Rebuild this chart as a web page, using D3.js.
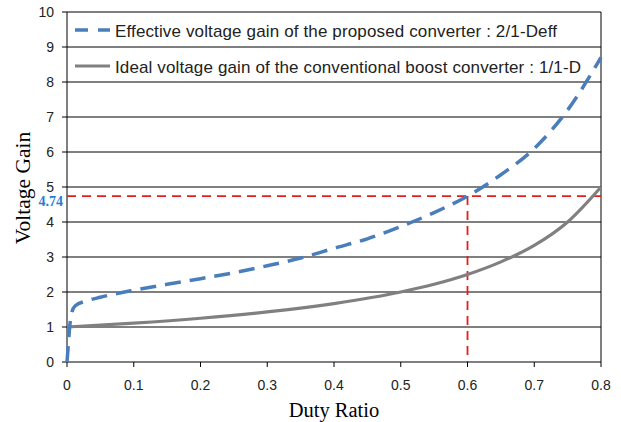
<!DOCTYPE html>
<html><head><meta charset="utf-8">
<script src="https://cdn.jsdelivr.net/npm/d3@7"></script>
<style>body{margin:0;background:#fff}svg{display:block}</style>
</head><body>
<svg id="c" width="621" height="422"></svg>
<script>
const yTicks = [0,1,2,3,4,5,6,7,8,9,10];
const xTicks = [0,0.1,0.2,0.3,0.4,0.5,0.6,0.7,0.8];
const effD = [0,0.002,0.004,0.007,0.012,0.03,0.05,0.1,0.15,0.2,0.25,0.3,0.35,0.4,0.45,0.5,0.55,0.6,0.65,0.7,0.75,0.8];
const effG = [0,0.5,1.0,1.4,1.6,1.75,1.85,2.05,2.22,2.38,2.55,2.75,2.97,3.25,3.52,3.87,4.27,4.74,5.35,6.1,7.2,8.7];
const idealD = [0,0.1,0.2,0.3,0.4,0.5,0.55,0.6,0.65,0.7,0.75,0.8];
const idealG = [1,1.11,1.25,1.43,1.67,2,2.22,2.5,2.86,3.33,4,5];
const markD = 0.6, markG = 4.74;
const legendLabels = ["Effective voltage gain of the proposed converter : 2/1-Deff","Ideal voltage gain of the conventional boost converter : 1/1-D"];

const svg = d3.select("#c");
const L=67,R=601,T=12,B=362;
const x = d3.scaleLinear().domain([0,0.8]).range([L,R]);
const y = d3.scaleLinear().domain([0,10]).range([B,T]);

// gridlines
svg.append("g").selectAll("line").data(yTicks).join("line")
 .attr("x1",L-5).attr("x2",R).attr("y1",d=>y(d)).attr("y2",d=>y(d))
 .attr("stroke","#000").attr("stroke-width",1);
// axes lines
svg.append("line").attr("x1",L).attr("x2",L).attr("y1",T).attr("y2",B).attr("stroke","#000");
svg.append("line").attr("x1",R).attr("x2",R).attr("y1",T).attr("y2",B).attr("stroke","#000");
svg.append("g").selectAll("line").data(xTicks).join("line")
 .attr("x1",d=>x(d)).attr("x2",d=>x(d)).attr("y1",B).attr("y2",B+5).attr("stroke","#000");

const tf = "'Liberation Sans', Arial, sans-serif";
svg.append("g").selectAll("text").data(yTicks).join("text")
 .attr("x",L-13).attr("y",d=>y(d)+5).attr("text-anchor","end")
 .attr("font-family",tf).attr("font-size",14).attr("fill","#222").text(d=>d);
svg.append("g").selectAll("text").data(xTicks).join("text")
 .attr("x",d=>x(d)).attr("y",390).attr("text-anchor","middle")
 .attr("font-family",tf).attr("font-size",14).attr("fill","#222").text(d=>d);

// red dashed markers
svg.append("line").attr("x1",L).attr("x2",R).attr("y1",y(markG)).attr("y2",y(markG))
 .attr("stroke","#e0201c").attr("stroke-width",1.8).attr("stroke-dasharray","9,6");
svg.append("line").attr("x1",x(markD)).attr("x2",x(markD)).attr("y1",y(markG)).attr("y2",B)
 .attr("stroke","#e0201c").attr("stroke-width",1.8).attr("stroke-dasharray","9,6");

const line = d3.line().x(d=>x(d[0])).y(d=>y(d[1])).curve(d3.curveMonotoneX);
svg.append("path").datum(idealD.map((d,i)=>[d,idealG[i]])).attr("d",line)
 .attr("fill","none").attr("stroke","#808080").attr("stroke-width",3.2);
svg.append("path").datum(effD.map((d,i)=>[d,effG[i]])).attr("d",line)
 .attr("fill","none").attr("stroke","#4a7ebb").attr("stroke-width",3.5).attr("stroke-dasharray","16,9");

// label 4.74
svg.append("text").attr("x",63).attr("y",y(markG)+9.5).attr("text-anchor","end")
 .attr("font-family","'Liberation Serif', 'Times New Roman', serif").attr("font-weight","bold")
 .attr("font-size",14).attr("fill","#1f7fd4").text(markG.toFixed(2));

// legend
svg.append("line").attr("x1",75).attr("x2",110).attr("y1",30).attr("y2",30)
 .attr("stroke","#4a7ebb").attr("stroke-width",3.5).attr("stroke-dasharray","13,10");
svg.append("line").attr("x1",75).attr("x2",110).attr("y1",66).attr("y2",66)
 .attr("stroke","#808080").attr("stroke-width",3.2);
const legLens = [442, 466];
svg.append("g").selectAll("text").data(legendLabels).join("text")
 .attr("x",115).attr("y",(d,i)=>37+i*36)
 .attr("textLength",(d,i)=>legLens[i]).attr("lengthAdjust","spacing")
 .attr("font-family",tf).attr("font-size",17).attr("fill","#222").text(d=>d);

// axis titles
const sf = "'Liberation Serif', 'Times New Roman', serif";
svg.append("text").attr("x",334).attr("y",417).attr("text-anchor","middle")
 .attr("font-family",sf).attr("font-size",20.5).attr("fill","#000").text("Duty Ratio");
svg.append("text").attr("transform","translate(30,188) rotate(-90)").attr("text-anchor","middle")
 .attr("font-family",sf).attr("font-size",21.5).attr("fill","#000").text("Voltage Gain");
</script>
</body></html>
